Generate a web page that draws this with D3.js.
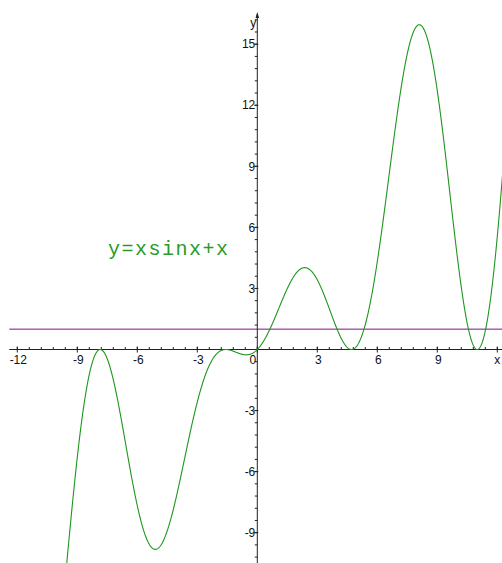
<!DOCTYPE html>
<html>
<head>
<meta charset="utf-8">
<script src="https://cdn.jsdelivr.net/npm/d3@7/dist/d3.min.js"></script>
<style>
  html, body { margin: 0; padding: 0; background: #fff; }
  svg { display: block; }
</style>
</head>
<body>
<svg id="chart" width="502" height="563"></svg>
<script>
// Plot of y = x·sin(x) + x with a reference line y = 1
const curveLabel = "y=xsinx+x";
const xDomain = [-12.4, 12.4];
const yDomain = [-10.6, 16.5];
const xMajorTicks = [-12, -9, -6, -3, 0, 3, 6, 9];
const xTickLabels = ["-12", "-9", "-6", "-3", "0", "3", "6", "9"];
const yMajorTicks = [-9, -6, -3, 3, 6, 9, 12, 15];
const yTickLabels = ["-9", "-6", "-3", "3", "6", "9", "12", "15"];
const minorStep = 0.6;
const refLevel = [1];
const f = x => x * Math.sin(x) + x;

const W = 502, H = 563;
const svg = d3.select("#chart");

const x = d3.scaleLinear().domain([-12, 12]).range([17.3, 497.3]);
const y = d3.scaleLinear().domain([0, 15]).range([349.5, 44.2]);

const axisColor = "#222";
const green = "#1e961e";
const purple = "#80108a";

// reference line
svg.selectAll("line.ref").data(refLevel).enter().append("line")
  .attr("class", "ref")
  .attr("x1", x(-12.4)).attr("x2", W)
  .attr("y1", d => y(d)).attr("y2", d => y(d))
  .attr("stroke", purple).attr("stroke-width", 1);

// x axis
const x0 = x(0), y0 = y(0);
svg.append("line")
  .attr("x1", x(-12.4)).attr("x2", W)
  .attr("y1", y0).attr("y2", y0)
  .attr("stroke", axisColor).attr("stroke-width", 1);

// y axis
svg.append("line")
  .attr("x1", x0).attr("x2", x0)
  .attr("y1", 14).attr("y2", H)
  .attr("stroke", axisColor).attr("stroke-width", 1);
svg.append("path")
  .attr("d", `M${x0 - 1.8},${18} L${x0},${12} L${x0 + 1.8},${18} Z`)
  .attr("fill", axisColor);

// minor ticks
const xMinor = d3.range(Math.ceil(-12.4 / minorStep), Math.floor(12.25 / minorStep) + 1)
  .map(i => +(i * minorStep).toFixed(2));
svg.selectAll("line.xminor").data(xMinor).enter().append("line")
  .attr("x1", d => x(d)).attr("x2", d => x(d))
  .attr("y1", y0 - 2.5).attr("y2", y0)
  .attr("stroke", axisColor).attr("stroke-width", 1);

const yMinor = d3.range(Math.ceil(yDomain[0] / minorStep), Math.floor(yDomain[1] / minorStep) + 1)
  .map(i => +(i * minorStep).toFixed(2));
svg.selectAll("line.yminor").data(yMinor).enter().append("line")
  .attr("x1", x0 - 2.5).attr("x2", x0)
  .attr("y1", d => y(d)).attr("y2", d => y(d))
  .attr("stroke", axisColor).attr("stroke-width", 1);

// major ticks
svg.selectAll("line.xmajor").data(xMajorTicks.concat([12])).enter().append("line")
  .attr("x1", d => x(d)).attr("x2", d => x(d))
  .attr("y1", y0 - 3).attr("y2", y0 + 3)
  .attr("stroke", axisColor).attr("stroke-width", 1);
svg.selectAll("line.ymajor").data(yMajorTicks).enter().append("line")
  .attr("x1", x0 - 3).attr("x2", x0 + 1)
  .attr("y1", d => y(d)).attr("y2", d => y(d))
  .attr("stroke", axisColor).attr("stroke-width", 1);

// tick labels
const tickFont = "'Liberation Sans', Arial, sans-serif";
svg.selectAll("text.xlab").data(xMajorTicks).enter().append("text")
  .attr("x", d => d === 0 ? x(d) - 4.5 : x(d) + 1)
  .attr("y", y0 + 14)
  .attr("text-anchor", "middle")
  .attr("font-family", tickFont).attr("font-size", 12)
  .attr("fill", "#111")
  .text((d, i) => xTickLabels[i]);
svg.selectAll("text.ylab").data(yMajorTicks).enter().append("text")
  .attr("x", x0 - 2)
  .attr("y", d => y(d))
  .attr("dy", "0.35em")
  .attr("text-anchor", "end")
  .attr("font-family", tickFont).attr("font-size", 12)
  .attr("fill", "#111")
  .text((d, i) => yTickLabels[i]);

// axis names
svg.append("text").attr("x", x(12)).attr("y", y0 + 14)
  .attr("text-anchor", "middle")
  .attr("font-family", tickFont).attr("font-size", 12).attr("fill", "#111")
  .text("x");
svg.append("text").attr("x", x0 - 1).attr("y", 27)
  .attr("text-anchor", "end")
  .attr("font-family", tickFont).attr("font-size", 12).attr("fill", "#111")
  .text("y");

// curve
const xs = d3.range(xDomain[0], xDomain[1] + 0.001, 0.02);
const pts = xs.map(v => [v, f(v)]);
svg.append("clipPath").attr("id", "plotClip")
  .append("rect").attr("x", 0).attr("y", 0).attr("width", W).attr("height", H);
svg.append("path")
  .datum(pts)
  .attr("clip-path", "url(#plotClip)")
  .attr("fill", "none")
  .attr("stroke", green)
  .attr("stroke-width", 1.1)
  .attr("d", d3.line().x(d => x(d[0])).y(d => y(d[1])));

// equation label
svg.append("text")
  .attr("x", 108).attr("y", 255)
  .attr("font-family", "'Liberation Mono', 'Courier New', monospace")
  .attr("font-size", 20)
  .attr("textLength", 120)
  .attr("lengthAdjust", "spacing")
  .attr("fill", "#2a9a2a")
  .text(curveLabel);
</script>
</body>
</html>
